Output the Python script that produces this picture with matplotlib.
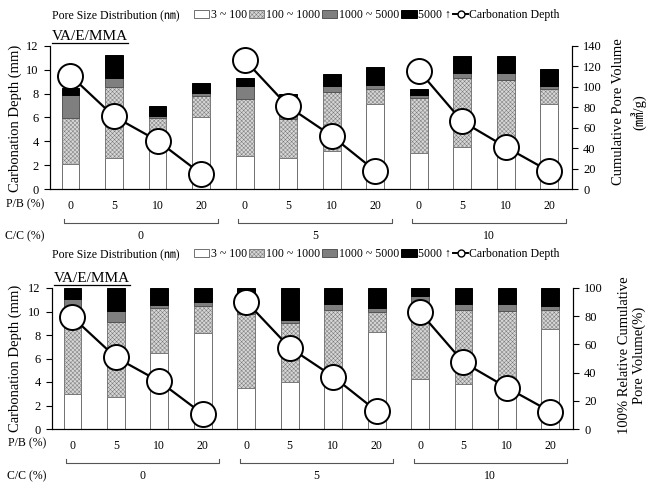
import numpy as np
import matplotlib
matplotlib.use("Agg")
import matplotlib.pyplot as plt
from matplotlib.patches import Patch
from matplotlib.lines import Line2D

plt.rcParams['font.family'] = ['Liberation Serif', 'Noto Sans CJK JP', 'DejaVu Sans']
plt.rcParams['hatch.linewidth'] = 0.35

# Data
pb_labels = ["0", "5", "10", "20"] * 3
cc_labels = ["0", "5", "10"]
depth = [9.52, 6.09, 4.05, 1.28, 10.84, 6.93, 4.46, 1.53, 9.94, 5.67, 3.52, 1.48]

# cumulative pore volume (mm3/g) per pore size class
vol_3_100 = [24.5, 30, 43.5, 70.6, 32, 30, 36.8, 83, 35, 41, 46, 83]
vol_100_1000 = [45.5, 70, 25.9, 20.4, 56, 39, 58.6, 15, 54, 68, 61, 15]
vol_1000_5000 = [22, 9, 1.6, 3, 13, 3, 5.6, 4, 3, 5, 7, 3]
vol_5000 = [7, 22, 10, 10, 7.5, 21, 12, 17, 6, 16, 16, 16.5]

# 100% relative cumulative pore volume (%)
rel_3_100 = [24.7, 22.6, 53.6, 68.2, 29.4, 33, 32.6, 69, 35.3, 31.8, 36, 70.6]
rel_100_1000 = [46.6, 53.4, 32.4, 19.1, 52, 42.3, 52.1, 14, 54.8, 52.4, 47.8, 13.6]
rel_1000_5000 = [21.2, 7.5, 1.8, 2.8, 10.4, 1.9, 4.3, 2.9, 4, 4.3, 5.2, 2.8]
rel_5000 = [7.5, 16.5, 12.2, 9.9, 8.2, 22.8, 11, 14.1, 5.9, 11.5, 11, 13]

legend_labels = ["3 ~ 100", "100 ~ 1000", "1000 ~ 5000", "5000 \u2191", "Carbonation Depth"]

x = np.arange(12)
width = 0.41
styles = [
    dict(color="white", edgecolor="#707070", hatch=None),
    dict(color="#d6d6d6", edgecolor="#7a7a7a", hatch="xxxxxxxx"),
    dict(color="#7f7f7f", edgecolor="#555555", hatch=None),
    dict(color="black", edgecolor="black", hatch=None),
]

fig = plt.figure(figsize=(6.48, 4.83), dpi=100)
renderer = fig.canvas.get_renderer()


def draw_panel(rect, series, rmax, rstep, pb_y, br_y, cc_y):
    ax = fig.add_axes(rect)
    ax2 = ax.twinx()
    bottom = np.zeros(12)
    for vals, st in zip(series, styles):
        ax2.bar(x, vals, width, bottom=bottom, color=st["color"], edgecolor=st["edgecolor"],
                hatch=st["hatch"], linewidth=0.7)
        bottom += np.array(vals)
    for g in range(3):
        ax.plot(x[4 * g:4 * g + 4], depth[4 * g:4 * g + 4], color="black", lw=1.6,
                marker="o", markersize=18, markerfacecolor="white", markeredgecolor="black",
                markeredgewidth=1.4, clip_on=False)
    ax.set_zorder(ax2.get_zorder() + 1)
    ax.patch.set_visible(False)

    ax.set_xlim(-0.47, 11.52)
    ax.set_ylim(0, 12)
    ax.set_yticks(range(0, 13, 2))
    ax2.set_ylim(0, rmax)
    ax2.set_yticks(np.arange(0, rmax + 1, rstep))
    for a in (ax, ax2):
        a.spines["top"].set_visible(False)
        a.tick_params(axis="y", direction="out", length=4, labelsize=9, pad=4)
    ax.set_xticks(x)
    ax.set_xticklabels(pb_labels, fontsize=8.5)
    ax.tick_params(axis="x", length=0, pad=8)

    tr = ax.get_xaxis_transform()
    ax.text(-0.6, pb_y, "P/B (%)", transform=tr, ha="right", va="center", fontsize=8.5)
    ax.text(-0.6, cc_y, "C/C (%)", transform=tr, ha="right", va="center", fontsize=8.5)
    for g in range(3):
        x0, x1 = 4 * g - 0.15, 4 * g + 3.38
        ax.plot([x0, x0, x1, x1], [br_y + 0.03, br_y, br_y, br_y + 0.03], color="#555555",
                lw=0.8, transform=tr, clip_on=False)
        ax.text((x0 + x1) / 2, cc_y, cc_labels[g], transform=tr, ha="center", va="center",
                fontsize=8.5)
    # underlined panel title
    t = ax.text(0.003, 1.04, "VA/E/MMA", transform=ax.transAxes, fontsize=11,
                ha="left", va="baseline")
    bb = t.get_window_extent(renderer).transformed(ax.transAxes.inverted())
    ax.plot([bb.x0, bb.x1], [1.022, 1.022], color="black", lw=0.9,
            transform=ax.transAxes, clip_on=False)
    return ax, ax2


handles = [Patch(facecolor=st["color"], edgecolor=st["edgecolor"], hatch=st["hatch"], lw=0.7)
           for st in styles]
handles.append(Line2D([0], [0], color="black", lw=1.4, marker="o", markersize=5,
                      markerfacecolor="white", markeredgecolor="black"))


def draw_legend(y):
    fig.text(52 / 648, y, "Pore Size Distribution (\u339a)", fontsize=8.5, va="center")
    fig.legend(handles, legend_labels, loc="center left", bbox_to_anchor=(194 / 648, y),
               ncol=5, frameon=False, fontsize=8.5, handlelength=1.3, handleheight=0.6,
               handletextpad=0.1, columnspacing=0.2, borderpad=0, borderaxespad=0)


# top panel
draw_legend(1 - 15 / 483)
draw_panel([50 / 648, 1 - 189 / 483, 522 / 648, 143 / 483],
           [vol_3_100, vol_100_1000, vol_1000_5000, vol_5000], 140, 20,
           -0.11, -0.24, -0.33)
fig.text(15 / 648, 1 - 118 / 483, "Carbonation Depth (mm)", rotation=90, ha="center",
         va="center", fontsize=10.5)
fig.text(618 / 648, 1 - 112 / 483, "Cumulative Pore Volume", rotation=90, ha="center",
         va="center", fontsize=10.5)
fig.text(638 / 648, 1 - 112 / 483, "(\u33a3/g)", rotation=90, ha="center", va="center",
         fontsize=10.5)

# bottom panel
draw_legend(1 - 254 / 483)
draw_panel([52 / 648, 1 - 429 / 483, 521 / 648, 141 / 483],
           [rel_3_100, rel_100_1000, rel_1000_5000, rel_5000], 100, 20,
           -0.10, -0.24, -0.335)
fig.text(15 / 648, 1 - 358 / 483, "Carbonation Depth (mm)", rotation=90, ha="center",
         va="center", fontsize=10.5)
fig.text(624 / 648, 1 - 355 / 483, "100% Relative Cumulative", rotation=90, ha="center",
         va="center", fontsize=10.5)
fig.text(639 / 648, 1 - 355 / 483, "Pore Volume(%)", rotation=90, ha="center", va="center",
         fontsize=10.5)

fig.savefig("out.png", dpi=100)
